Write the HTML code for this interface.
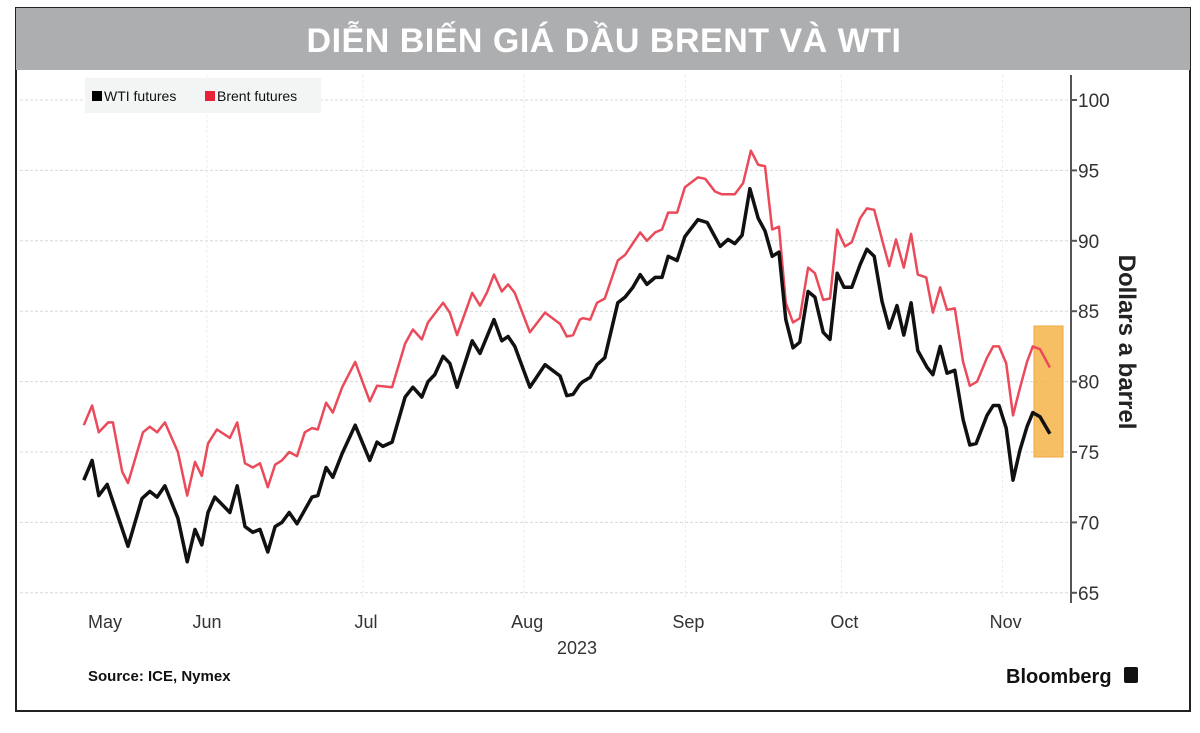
<!DOCTYPE html>
<html><head><meta charset="utf-8"><style>
body{margin:0;background:#fff;width:1200px;height:728px;overflow:hidden;font-family:"Liberation Sans",sans-serif;}
</style></head><body>
<svg width="1200" height="728" viewBox="0 0 1200 728" xmlns="http://www.w3.org/2000/svg">
<rect x="16" y="8" width="1174" height="703" fill="#fff" stroke="#222" stroke-width="2"/>
<rect x="16" y="8" width="1174" height="62" fill="#adaeb0"/>
<text x="604" y="52" text-anchor="middle" font-size="34" font-weight="bold" fill="#fff" letter-spacing="0.5" font-family="'Liberation Sans','Noto Sans CJK SC',sans-serif">DIỄN BIẾN GIÁ DẦU BRENT VÀ WTI</text>
<g id="grid"></g>
<rect x="1034" y="326" width="29" height="131" fill="#f6b54a" opacity="0.85" stroke="#e59a20"/>
<g id="series"></g>
<line x1="1071" y1="75" x2="1071" y2="603" stroke="#555" stroke-width="2"/>
<g id="axes"></g>
<text x="1119" y="342" font-size="24" font-weight="bold" fill="#222" transform="rotate(90 1119 342)" text-anchor="middle">Dollars a barrel</text>
<rect x="85" y="78" width="236" height="35" fill="#f3f4f4"/>
<rect x="92" y="91" width="10" height="10" fill="#000"/>
<text x="104" y="101" font-size="14" fill="#111">WTI futures</text>
<rect x="205" y="91" width="10" height="10" fill="#e8203a"/>
<text x="217" y="101" font-size="14" fill="#111">Brent futures</text>
<text x="577" y="654" text-anchor="middle" font-size="18" fill="#333">2023</text>
<text x="88" y="681" font-size="15" font-weight="bold" fill="#111">Source: ICE, Nymex</text>
<text x="1006" y="683" font-size="20" font-weight="bold" fill="#111">Bloomberg</text>
<rect x="1124" y="667" width="14" height="16" rx="2" fill="#111"/>
</svg>
<script>
const wtiDays=[-23.7,-22.1,-20.8,-19.2,-15.2,-12.5,-11.0,-9.6,-8.1,-5.6,-3.8,-2.3,-1.0,0.2,1.5,4.4,5.8,7.3,8.8,10.2,11.7,13.1,14.4,15.8,17.3,20.2,21.3,22.9,24.2,26.0,28.5,31.3,32.7,33.8,35.6,38.1,39.6,41.3,42.5,43.8,45.4,46.7,48.1,51.0,52.5,55.2,56.7,57.9,59.2,62.1,65.0,67.9,69.2,70.4,71.7,72.3,73.7,75.0,76.5,79.0,80.4,81.9,83.3,84.6,86.2,87.5,88.7,90.4,91.9,94.4,96.2,98.7,100.2,101.5,102.9,104.4,106.0,107.3,108.7,110.0,111.3,112.7,114.0,115.6,116.9,118.5,119.8,121.2,122.5,124.0,125.6,126.9,128.3,129.8,131.2,132.7,134.0,135.4,136.7,138.5,139.6,141.0,142.3,143.8,145.4,146.7,147.9,150.0,151.2,152.3,153.7,155.0,156.3,157.7,158.8,160.2,162.1];
const wtiValues=[73.0,74.4,71.9,72.7,68.3,71.7,72.2,71.8,72.6,70.3,67.2,69.5,68.4,70.7,71.8,70.7,72.6,69.7,69.3,69.5,67.9,69.7,70.0,70.7,69.9,71.8,71.9,73.9,73.2,74.9,76.9,74.4,75.7,75.4,75.7,78.9,79.6,78.9,80.0,80.5,81.8,81.3,79.6,82.9,82.0,84.4,82.9,83.2,82.5,79.6,81.2,80.4,79.0,79.1,79.8,80.0,80.3,81.2,81.7,85.6,86.0,86.7,87.6,86.9,87.4,87.4,88.9,88.6,90.3,91.5,91.3,89.6,90.1,89.8,90.4,93.7,91.6,90.7,88.9,89.2,84.4,82.4,82.8,86.4,86.0,83.5,83.0,87.7,86.7,86.7,88.3,89.4,88.9,85.7,83.8,85.4,83.3,85.6,82.2,81.0,80.5,82.5,80.6,80.8,77.3,75.5,75.6,77.6,78.3,78.3,76.7,73.0,75.1,76.8,77.8,77.5,76.3];
const brentDays=[-23.7,-22.1,-20.8,-19.0,-18.1,-16.3,-15.2,-12.3,-11.0,-9.6,-8.1,-5.6,-3.8,-2.3,-1.0,0.2,1.9,4.4,5.8,7.3,8.8,10.2,11.7,13.1,14.4,15.8,17.3,18.8,20.2,21.3,22.9,24.2,26.0,28.5,31.3,32.7,35.6,38.1,39.6,41.3,42.5,45.4,46.7,48.1,51.0,52.5,53.8,55.2,56.7,57.9,59.2,62.1,65.0,67.9,69.2,70.4,71.7,72.3,73.7,75.0,76.5,79.0,80.4,83.3,84.6,86.2,87.5,88.7,90.4,91.9,94.4,95.8,97.7,99.0,101.5,103.1,104.6,106.0,107.3,108.7,110.0,111.3,112.7,114.0,115.6,116.9,118.5,119.8,121.2,122.7,124.0,125.6,126.9,128.3,129.8,131.2,132.5,134.0,135.4,136.7,138.3,139.6,141.0,142.3,143.8,145.4,146.7,148.1,150.0,151.2,152.3,153.7,155.0,156.3,157.7,158.8,160.2,162.1];
const brentValues=[76.9,78.3,76.4,77.1,77.1,73.6,72.8,76.4,76.8,76.4,77.1,75.0,71.9,74.3,73.3,75.6,76.6,76.0,77.1,74.2,73.9,74.2,72.5,74.1,74.4,75.0,74.7,76.4,76.7,76.6,78.5,77.8,79.6,81.4,78.6,79.7,79.6,82.7,83.7,83.0,84.2,85.6,84.9,83.3,86.3,85.4,86.3,87.6,86.4,86.9,86.3,83.5,84.9,84.1,83.2,83.3,84.4,84.5,84.4,85.6,85.9,88.6,89.0,90.6,90.0,90.6,90.8,92.0,92.0,93.8,94.5,94.4,93.5,93.3,93.3,94.1,96.4,95.4,95.3,90.8,91.0,85.6,84.2,84.5,88.1,87.7,85.8,85.9,90.8,89.6,89.9,91.6,92.3,92.2,90.1,88.2,90.1,88.1,90.5,87.6,87.4,84.9,86.7,85.1,85.2,81.4,79.7,80.0,81.7,82.5,82.5,81.3,77.6,79.5,81.4,82.5,82.3,81.0];
const yTicks=[65,70,75,80,85,90,95,100];
const monthLabels=["May","Jun","Jul","Aug","Sep","Oct","Nov"];
const monthDays=[-20.0,0,30,61,92,122,153];

const NS="http://www.w3.org/2000/svg";
const xS=d=>207+d*5.2;
const yS=v=>100+(100-v)*14.08;
function mk(tag,attrs,parent){const e=document.createElementNS(NS,tag);for(const k in attrs)e.setAttribute(k,attrs[k]);parent.appendChild(e);return e;}
const grid=document.getElementById('grid'),axes=document.getElementById('axes'),series=document.getElementById('series');
yTicks.forEach(t=>{
  const l=mk('line',{x1:20,x2:1068,y1:yS(t),y2:yS(t),stroke:'#d8d8d8','stroke-dasharray':'3,2'},grid);
  
  
  const tk=mk('line',{x1:1071,x2:1077,y1:yS(t),y2:yS(t),stroke:'#555','stroke-width':2},axes);
  
  
  const tx=mk('text',{x:1078,y:yS(t)+7,'font-size':19,fill:'#333'},axes);
  tx.textContent=t;
  
  
});
monthLabels.forEach((m,i)=>{
  const x=i===0?105:xS(monthDays[i]);
  if(i>0){const g=mk('line',{x1:x,x2:x,y1:75,y2:600,stroke:'#ececec','stroke-dasharray':'3,2'},grid);
  
  }
  const t=mk('text',{x:x+(i>1?3:0),y:628,'text-anchor':'middle','font-size':18,fill:'#333'},axes);
  t.textContent=m;
  
  
});
function pathOf(days,vals){return days.map((d,i)=>(i?'L':'M')+xS(d).toFixed(1)+','+yS(vals[i]).toFixed(1)).join(' ');}
const b=mk('path',{d:pathOf(brentDays,brentValues),fill:'none',stroke:'#ea4a5a','stroke-width':2.5,'stroke-linejoin':'round'},series);


const w=mk('path',{d:pathOf(wtiDays,wtiValues),fill:'none',stroke:'#111','stroke-width':3.5,'stroke-linejoin':'round'},series);


</script>
</body></html>
